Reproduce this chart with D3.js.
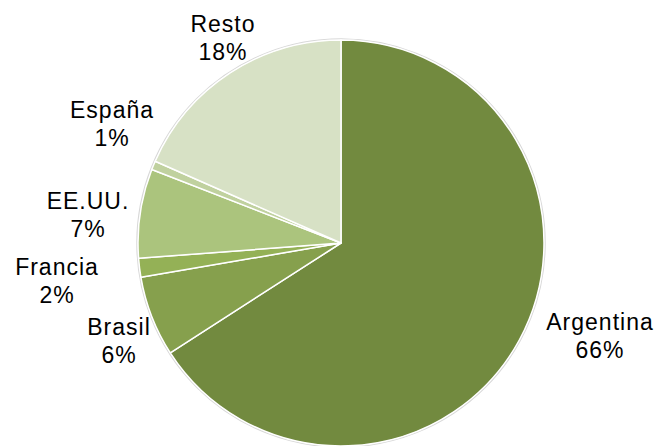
<!DOCTYPE html>
<html>
<head>
<meta charset="utf-8">
<script src="https://cdn.jsdelivr.net/npm/d3@7"></script>
<style>
  body { margin: 0; background: #fff; }
  text { font-family: "Liberation Sans", Arial, sans-serif; }
</style>
</head>
<body>
<svg id="pie" width="662" height="446"></svg>
<script>
// chart data
const countries = ['Argentina', 'Brasil', 'Francia', 'EE.UU.', 'España', 'Resto'];
const shares = [65.9, 6.4, 1.5, 7.1, 0.7, 18.4];
const shownPct = ['66%', '6%', '2%', '7%', '1%', '18%'];
const colors = ['#728a3f', '#86a04d', '#94b156', '#abc47d', '#c0d19f', '#d7e1c5'];

// where each label sits (center x, first baseline)
const labelSpots = [[600, 330], [119, 335], [57, 275], [88, 209], [112, 118], [223, 32]];

const cx = 341, cy = 243, radius = 203;

const data = countries.map((c, i) => ({ name: c, value: shares[i], pct: shownPct[i], color: colors[i] }));

const svg = d3.select('#pie');

const pie = d3.pie()
    .value(d => d.value)
    .sort(null)
    .startAngle(0)
    .endAngle(2 * Math.PI);

const arc = d3.arc()
    .innerRadius(0)
    .outerRadius(radius);

const g = svg.append('g')
    .attr('transform', 'translate(' + cx + ',' + cy + ')');

// faint shadow round the edge
g.append('circle')
    .attr('r', radius + 1)
    .attr('fill', 'none')
    .attr('stroke', '#d8d8d8')
    .attr('stroke-width', 1.5);

g.selectAll('path')
    .data(pie(data))
    .enter()
    .append('path')
    .attr('d', arc)
    .attr('fill', d => d.data.color)
    .attr('stroke', '#fff')
    .attr('stroke-width', 1.5)
    .attr('stroke-linejoin', 'round');

const labels = svg.append('g')
    .selectAll('text')
    .data(data)
    .enter()
    .append('text')
    .attr('text-anchor', 'middle')
    .attr('font-size', 23)
    .attr('letter-spacing', 1)
    .attr('fill', '#000')
    .attr('transform', (d, i) => 'translate(' + labelSpots[i][0] + ',' + labelSpots[i][1] + ')');

labels.append('tspan')
    .attr('x', 0)
    .attr('y', 0)
    .text(d => d.name);

labels.append('tspan')
    .attr('x', 0)
    .attr('y', 28)
    .text(d => d.pct);
</script>
</body>
</html>
